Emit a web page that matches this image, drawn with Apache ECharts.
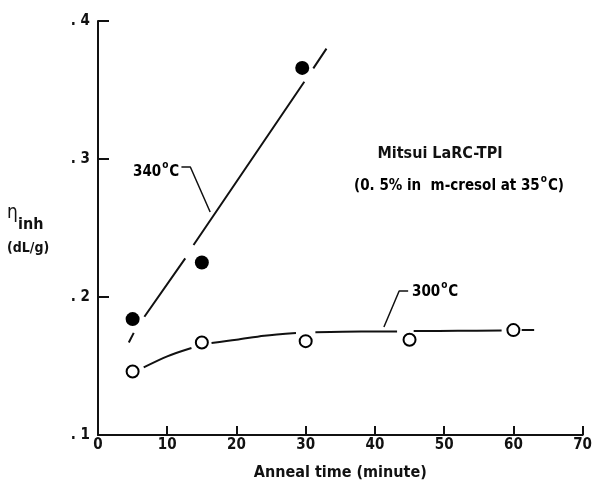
<!DOCTYPE html>
<html>
<head>
<meta charset="utf-8">
<script src="https://cdn.jsdelivr.net/npm/echarts@6/dist/echarts.min.js"></script>
<style>
html,body{margin:0;padding:0;background:#fff;}
#chart{width:595px;height:489px;}
</style>
</head>
<body>
<div id="chart"></div>
<script>
// ---- data ----
var xTicks = [0, 10, 20, 30, 40, 50, 60, 70];
var yTicks = [0.1, 0.2, 0.3, 0.4];

// 340 °C measured points (filled circles)
var time340 = [5, 15, 29.5];
var eta340 = [0.184, 0.225, 0.366];

// 300 °C measured points (open circles)
var time300 = [5, 15, 30, 45, 60];
var eta300 = [0.146, 0.167, 0.168, 0.169, 0.176];

// 340 °C fitted straight line (null = gap in the drawn line)
var fit340X = [4.45, 5.16, null, 6.7, 12.6, null, 13.8, 29.8, null, 31.1, 33.0];
var fit340Y = [0.167, 0.174, null, 0.1857, 0.228, null, 0.2377, 0.356, null, 0.3657, 0.380];

// 300 °C fitted curve (null = gap in the drawn line)
var fit300X = [6.6, 10, 13.5, null, 16.4, 20, 24, 28.6, null, 31.4, 38, 43.2, null, 45.6, 52, 58.3, null, 61.2, 63];
var fit300Y = [0.149, 0.157, 0.163, null, 0.1667, 0.169, 0.172, 0.174, null, 0.1745, 0.175, 0.175, null, 0.1753, 0.1755, 0.1757, null, 0.176, 0.176];

// label leader lines
var lead340X = [12.05, 13.34, 16.2];
var lead340Y = [0.2942, 0.2942, 0.2616];
var lead300X = [41.3, 43.5, 44.8];
var lead300Y = [0.1783, 0.2043, 0.2043];

// texts
var xAxisTitle = 'Anneal time (minute)';
var label340 = ['340', 'o', 'C'];
var label300 = ['300', 'o', 'C'];
var title1 = 'Mitsui LaRC-TPI';
var title2 = ['(0. 5% in  m-cresol at 35', 'o', 'C)'];
var yName = ['η', 'inh', '(dL/g)'];

function pairs(xs, ys) {
  return xs.map(function (x, i) {
    if (x === null || ys[i] === null) return ['-', '-'];
    return [x, ys[i]];
  });
}

var FC = "'DejaVu Sans Condensed', 'DejaVu Sans', sans-serif";
var INK = '#111';

var chart = echarts.init(document.getElementById('chart'), null, {renderer: 'canvas'});

function supText(parts, size, x, y, align) {
  return {
    type: 'text', x: x, y: y,
    style: {
      text: '{a|' + parts[0] + '}{s|' + parts[1] + '}{a|' + parts[2] + '}',
      align: align || 'left', verticalAlign: 'middle',
      rich: {
        a: {fontFamily: FC, fontWeight: 'bold', fontSize: size, lineHeight: 20, color: INK, verticalAlign: 'bottom'},
        s: {fontFamily: FC, fontWeight: 'bold', fontSize: 10, lineHeight: 10, color: INK, verticalAlign: 'top', padding: [0, 1, 0, 1]}
      }
    }
  };
}

var option = {
  animation: false,
  backgroundColor: '#fff',
  grid: {left: 98, right: 8, top: 21, bottom: 54, containLabel: false},
  xAxis: {
    type: 'value', min: 0, max: 70, interval: 10,
    axisLine: {show: true, lineStyle: {color: INK, width: 2}},
    axisTick: {show: true, inside: true, length: 9, lineStyle: {color: INK, width: 2}},
    axisLabel: {color: INK, fontFamily: FC, fontWeight: 'bold', fontSize: 15, margin: 3,
      formatter: function (v) { return xTicks.indexOf(v) >= 0 ? String(v) : ''; }},
    splitLine: {show: false},
    name: xAxisTitle, nameLocation: 'middle', nameGap: 30,
    nameTextStyle: {color: INK, fontFamily: FC, fontWeight: 'bold', fontSize: 16}
  },
  yAxis: {
    type: 'value', min: 0.1, max: 0.4, interval: 0.1,
    axisLine: {show: true, lineStyle: {color: INK, width: 2}},
    axisTick: {show: true, inside: true, length: 11, lineStyle: {color: INK, width: 2}},
    axisLabel: {color: INK, fontFamily: FC, fontWeight: 'bold', fontSize: 15, margin: 8,
      formatter: function (v) {
        var r = Math.round(v * 10);
        return yTicks.indexOf(r / 10) >= 0 ? '. ' + r : '';
      }},
    splitLine: {show: false}
  },
  series: [
    {
      type: 'line', name: 'fit340', data: pairs(fit340X, fit340Y),
      showSymbol: false, symbol: 'none', connectNulls: false,
      lineStyle: {color: INK, width: 2}, silent: true, z: 2
    },
    {
      type: 'line', name: 'fit300', data: pairs(fit300X, fit300Y),
      showSymbol: false, symbol: 'none', connectNulls: false, smooth: 0.3,
      lineStyle: {color: INK, width: 2}, silent: true, z: 2
    },
    {
      type: 'line', name: 'lead340', data: pairs(lead340X, lead340Y),
      showSymbol: false, symbol: 'none',
      lineStyle: {color: INK, width: 1.5}, silent: true, z: 2
    },
    {
      type: 'line', name: 'lead300', data: pairs(lead300X, lead300Y),
      showSymbol: false, symbol: 'none',
      lineStyle: {color: INK, width: 1.5}, silent: true, z: 2
    },
    {
      type: 'scatter', name: '340', data: pairs(time340, eta340),
      symbol: 'circle', symbolSize: 14,
      itemStyle: {color: '#000', borderWidth: 0, opacity: 1}, z: 5
    },
    {
      type: 'scatter', name: '300', data: pairs(time300, eta300),
      symbol: 'circle', symbolSize: 12,
      itemStyle: {color: '#fff', borderColor: '#000', borderWidth: 2, opacity: 1}, z: 5
    }
  ],
  graphic: [
    {type: 'text', x: 7, y: 213, style: {text: yName[0], fontFamily: FC, fontSize: 19, fill: INK, verticalAlign: 'middle'}},
    {type: 'text', x: 18, y: 225, style: {text: yName[1], fontFamily: FC, fontWeight: 'bold', fontSize: 16, fill: INK, verticalAlign: 'middle'}},
    {type: 'text', x: 7, y: 248, style: {text: yName[2], fontFamily: FC, fontWeight: 'bold', fontSize: 14, fill: INK, verticalAlign: 'middle'}},
    supText(label340, 15, 133, 170),
    supText(label300, 15, 412, 290),
    {type: 'text', x: 440, y: 154, style: {text: title1, fontFamily: FC, fontWeight: 'bold', fontSize: 16, fill: INK, align: 'center', verticalAlign: 'middle'}},
    supText(title2, 15, 459, 184, 'center')
  ]
};
chart.setOption(option);
</script>
</body>
</html>
